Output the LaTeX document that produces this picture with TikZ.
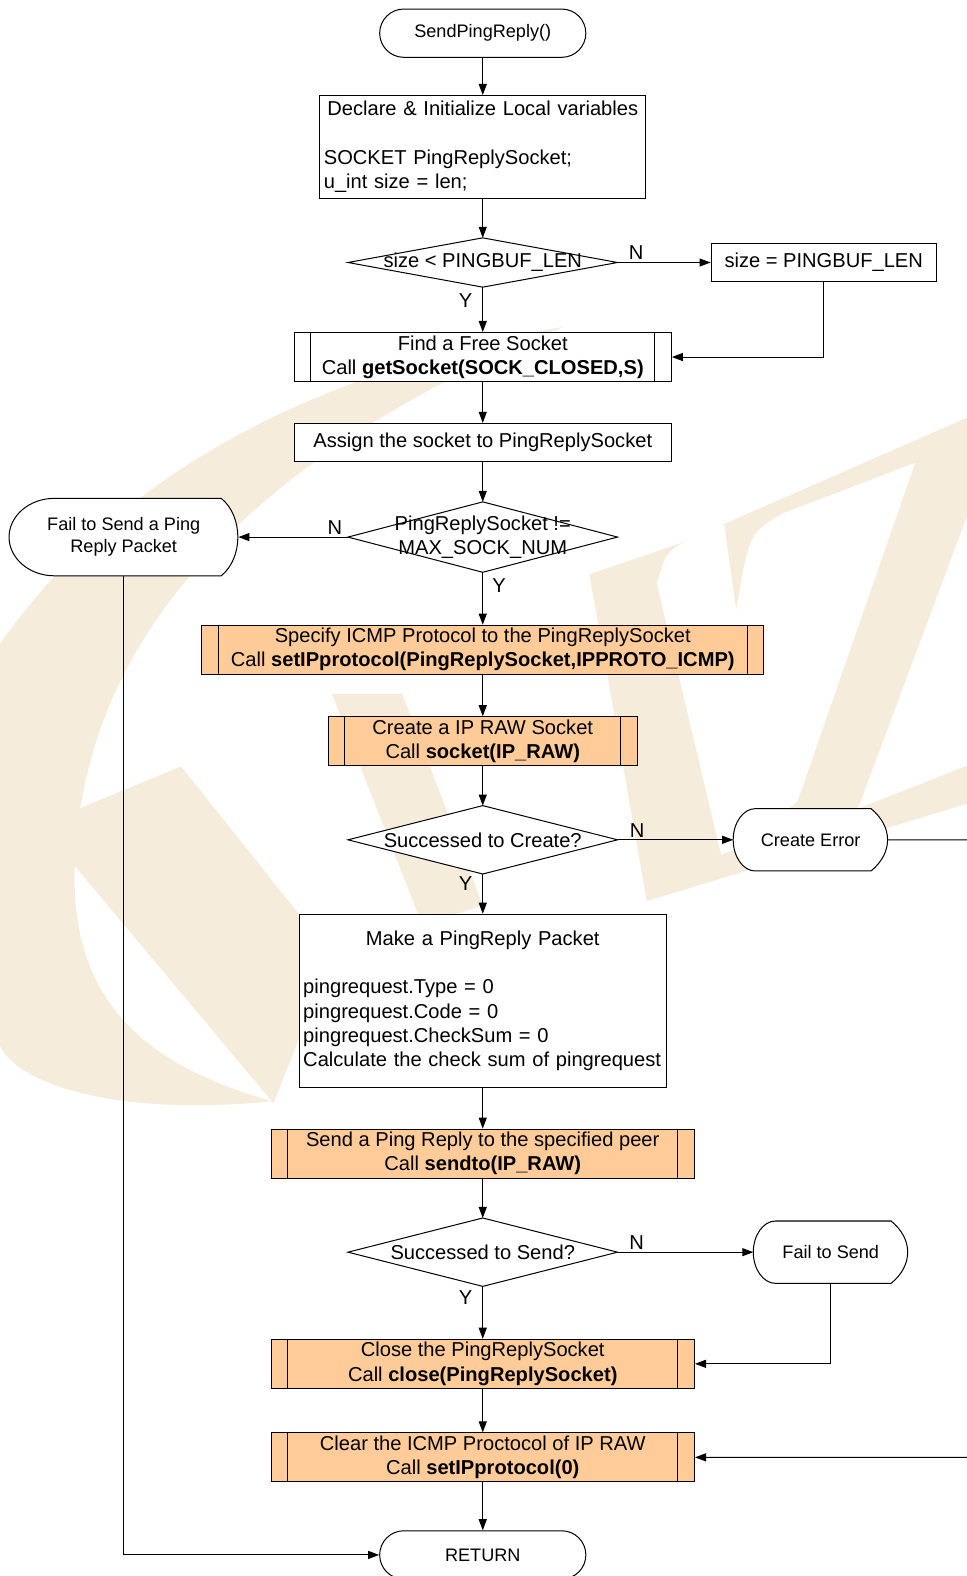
\documentclass[tikz,border=0pt]{standalone}
\usepackage{fontspec}
\setmainfont{Liberation Sans}
\usetikzlibrary{arrows.meta}
\definecolor{callfill}{HTML}{FFCC99}
\definecolor{wmark}{HTML}{F5ECDC}
\pgfdeclarelayer{wm}
\pgfdeclarelayer{bg}
\pgfsetlayers{wm,bg,main}
\newcommand\boxfont{\fontsize{20bp}{24bp}\selectfont}
\newcommand\termfont{\fontsize{18bp}{22bp}\selectfont}

\begin{document}
\begin{tikzpicture}[x=1bp,y=-1bp,line width=1bp,
  flow/.style={line width=1bp,-{Triangle[length=11bp,width=8bp]}},
  outline/.style={draw,line width=1bp,fill=white},
  term/.style={draw,fill=white,rounded corners=24bp,minimum width=205bp,minimum height=48bp,font=\termfont},
  proc/.style={draw,fill=white,inner sep=3bp,font=\boxfont,align=center},
  sub/.style={proc,minimum height=48bp},
  call/.style={sub,fill=callfill},
  decision/.style={minimum width=267bp,minimum height=67bp,inner sep=0pt,font=\boxfont,align=center},
  disp/.style={minimum width=153bp,minimum height=61bp,inner sep=0pt,font=\termfont,align=center},
  yn/.style={font=\boxfont,inner sep=2bp}]

\useasboundingbox (0,0) rectangle (961,1567);

\node[term] (start) at (480,33) {SendPingReply()};
\node[proc,minimum width=324bp,minimum height=102bp,text width=316bp,align=left] (decl) [node distance=113bp,below of=start]
  {\makebox[316bp]{Declare \& Initialize Local variables}\\[24bp]SOCKET PingReplySocket;\\u\_int size = len;};
\node[decision,minimum height=48bp] (chk1) [node distance=115bp,below of=decl] {size < PINGBUF\_LEN};
\node[proc,minimum width=224bp,minimum height=38bp] (setlen) [node distance=339bp,right of=chk1] {size = PINGBUF\_LEN};
\node[sub,minimum width=375bp] (find) [node distance=94bp,below of=chk1] {Find a Free Socket\\Call \textbf{getSocket(SOCK\_CLOSED,S)}};
\node[proc,minimum width=375bp,minimum height=38bp] (assign) [node distance=85bp,below of=find] {Assign the socket to PingReplySocket};
\node[decision,minimum height=69bp] (chk2) [node distance=94bp,below of=assign] {PingReplySocket !=\\MAX\_SOCK\_NUM};
\node[disp,minimum width=227bp,minimum height=76bp] (failp) [node distance=357bp,left of=chk2] {Fail to Send a Ping\\Reply Packet};
\node[call,minimum width=559bp] (spec) [node distance=112bp,below of=chk2] {Specify ICMP Protocol to the PingReplySocket\\Call \textbf{setIPprotocol(PingReplySocket,IPPROTO\_ICMP)}};
\node[call,minimum width=307bp] (create) [node distance=91bp,below of=spec] {Create a IP RAW Socket\\Call \textbf{socket(IP\_RAW)}};
\node[decision] (chk3) [node distance=98bp,below of=create] {Successed to Create?};
\node[disp] (cerr) [node distance=326bp,right of=chk3] {Create Error};
\node[proc,minimum width=365bp,minimum height=172bp,text width=357bp,align=left] (make) [node distance=160bp,below of=chk3]
  {\makebox[357bp]{Make a PingReply Packet}\\[24bp]pingrequest.Type = 0\\pingrequest.Code = 0\\pingrequest.CheckSum = 0\\Calculate the check sum of pingrequest};
\node[call,minimum width=421bp] (send) [node distance=152bp,below of=make] {Send a Ping Reply to the specified peer\\Call \textbf{sendto(IP\_RAW)}};
\node[decision] (chk4) [node distance=98bp,below of=send] {Successed to Send?};
\node[disp] (fsend) [node distance=346bp,right of=chk4] {Fail to Send};
\node[call,minimum width=421bp] (close) [node distance=111bp,below of=chk4] {Close the PingReplySocket\\Call \textbf{close(PingReplySocket)}};
\node[call,minimum width=421bp] (clear) [node distance=93bp,below of=close] {Clear the ICMP Proctocol of IP RAW\\Call \textbf{setIPprotocol(0)}};
\node[term] (ret) [node distance=97bp,below of=clear] {RETURN};
\coordinate (rim) at (990,1449);

\foreach \n in {find,spec,create,send,close,clear}
  \draw ([xshift=17bp]\n.north west) -- ([xshift=17bp]\n.south west)
        ([xshift=-17bp]\n.north east) -- ([xshift=-17bp]\n.south east);

\begin{pgfonlayer}{bg}
  \foreach \n in {chk1,chk2,chk3,chk4}
    \path[outline] (\n.west) -- (\n.north) -- (\n.east) -- (\n.south) -- cycle;
  \foreach \n/\d/\c/\s in {failp/45/20/21,cerr/22/10/17,fsend/22/10/17}
    \path[outline] ([xshift=\d bp]\n.north west) -- ([xshift=-17bp]\n.north east)
      .. controls ([xshift=5bp,yshift=-18bp]\n.north east) and ([xshift=5bp,yshift=18bp]\n.south east) .. ([xshift=-17bp]\n.south east)
      -- ([xshift=\d bp]\n.south west)
      .. controls ([xshift=\c bp]\n.south west) and ([yshift=-\s bp]\n.west) .. (\n.west)
      .. controls ([yshift=\s bp]\n.west) and ([xshift=\c bp]\n.north west) .. ([xshift=\d bp]\n.north west) -- cycle;
\end{pgfonlayer}

\path[flow]
  (start) edge (decl)
  (decl) edge (chk1)
  (chk1) edge node[yn,above,pos=0.2] {N} (setlen)
  (chk1) edge node[yn,left=8bp,pos=0.3] {Y} (find)
  (find) edge (assign)
  (assign) edge (chk2)
  (chk2) edge node[yn,above,pos=0.12] {N} (failp)
  (chk2) edge node[yn,right=7bp,pos=0.26] {Y} (spec)
  (spec) edge (create)
  (create) edge (chk3)
  (chk3) edge node[yn,above,pos=0.17] {N} (cerr)
  (chk3) edge node[yn,left=8bp,pos=0.25] {Y} (make)
  (make) edge (send)
  (send) edge (chk4)
  (chk4) edge node[yn,above,pos=0.14] {N} (fsend)
  (chk4) edge node[yn,left=8bp,pos=0.21] {Y} (close)
  (close) edge (clear)
  (clear) edge (ret);
\draw[flow] (setlen.south) |- (find.east);
\draw[flow] (fsend.south) |- (close.east);
\draw[flow] (failp.south) |- (ret.west);
\draw[flow] (cerr.east) -| (rim) -- (clear.east);

% watermark
\begin{pgfonlayer}{wm}
  \fill[wmark] (0,640) .. controls (100,500) and (260,380) .. (560,325)
    .. controls (330,420) and (90,580) .. (75,850) .. controls (65,1000) and (150,1060) .. (270,1095)
    .. controls (120,1110) and (20,1080) .. (0,1040) -- cycle;
  \fill[wmark] (40,820) -- (180,762) -- (330,950) -- (272,1097) -- cycle;
  \fill[wmark] (330,690) -- (400,690) -- (480,900) -- (420,920) -- cycle;
  \fill[wmark] (586,571) -- (680,539) .. controls (662,550) .. (653,580) -- (717,850)
    .. controls (730,845) .. (745,835) -- (793,797) -- (910,460) -- (777,511)
    .. controls (745,530) .. (732,606) -- (720,521) -- (985,405) -- (985,450)
    -- (853,804) -- (985,752) -- (985,792) -- (643,896) -- (600,649) -- cycle;
\end{pgfonlayer}
\end{tikzpicture}
\end{document}
